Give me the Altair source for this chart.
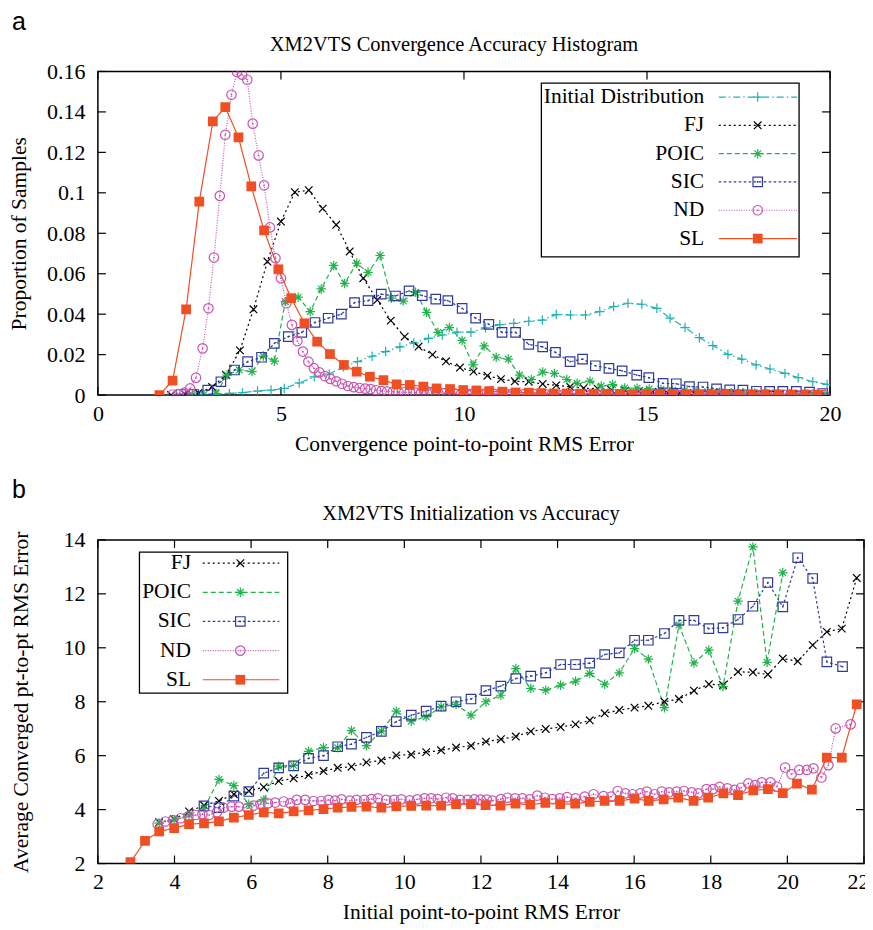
import altair as alt
import pandas as pd

SERIF = "Liberation Serif"
SANS = "Liberation Sans"

# ---------------- panel a : histogram ----------------
A_NAMES = ["Initial Distribution", "FJ", "POIC", "SIC", "ND", "SL"]

a_init_x = [2.82, 3.21, 3.59, 3.95, 4.36, 4.73, 5.09, 5.50, 5.91, 6.32, 6.71, 7.09, 7.49, 7.86, 8.25,
            8.63, 9.03, 9.41, 9.81, 10.19, 10.59, 10.98, 11.36, 11.77, 12.14, 12.52, 12.91, 13.32,
            13.71, 14.09, 14.48, 14.86, 15.27, 15.63, 16.04, 16.43, 16.80, 17.21, 17.59, 17.98,
            18.36, 18.77, 19.13, 19.53, 19.92]
a_init_y = [0.0, 0.0004, 0.0008, 0.0012, 0.0020, 0.0025, 0.0033, 0.0060, 0.0090, 0.0104, 0.0140,
            0.0165, 0.0192, 0.0215, 0.0238, 0.0258, 0.0280, 0.0297, 0.0311, 0.0311, 0.0332, 0.0348,
            0.0355, 0.0365, 0.0371, 0.0398, 0.0396, 0.0396, 0.0413, 0.0438, 0.0454, 0.0449, 0.0429,
            0.0380, 0.0334, 0.0284, 0.0245, 0.0201, 0.0178, 0.0149, 0.0129, 0.0107, 0.0086, 0.0066,
            0.0053]

a_fj_x = [2.00, 2.38, 2.75, 3.12, 3.50, 3.88, 4.25, 4.63, 5.00, 5.38, 5.76, 6.14, 6.51, 6.88, 7.25,
          7.63, 8.00, 8.38, 8.76, 9.14, 9.51, 9.89, 10.26, 10.64, 11.01, 11.39, 11.77, 12.15, 12.52,
          12.90, 13.27, 13.65, 14.02, 14.40, 14.78, 15.15, 15.53, 15.90, 16.28, 16.66, 17.03, 17.41,
          17.78, 18.16, 18.53, 18.91, 19.29, 19.66]
a_fj_y = [0.0, 0.0004, 0.0010, 0.0040, 0.0099, 0.0221, 0.0424, 0.0660, 0.0858, 0.1003, 0.1013,
          0.0922, 0.0842, 0.0710, 0.0578, 0.0470, 0.0368, 0.0289, 0.0240, 0.0200, 0.0167, 0.0136,
          0.0116, 0.0096, 0.0079, 0.0068, 0.0066, 0.0055, 0.0048, 0.0041, 0.0034, 0.0032, 0.0026,
          0.0022, 0.0019, 0.0016, 0.0014, 0.0012, 0.0011, 0.0010, 0.0009, 0.0008, 0.0007, 0.0006,
          0.0005, 0.0005, 0.0004, 0.0004]

a_poic_x = [2.58, 2.90, 3.23, 3.53, 3.86, 4.21, 4.52, 4.82, 5.12, 5.47, 5.80, 6.10, 6.44, 6.74, 7.07,
            7.38, 7.71, 8.02, 8.34, 8.68, 8.98, 9.29, 9.60, 9.95, 10.25, 10.55, 10.88, 11.21, 11.52,
            11.84, 12.15, 12.47, 12.81, 13.09, 13.44, 13.75, 14.06, 14.39, 14.73, 15.06, 15.38,
            15.70, 16.02, 16.34, 16.66, 16.98, 17.30, 17.62, 17.94, 18.26, 18.58, 18.90, 19.22,
            19.54, 19.86]
a_poic_y = [0.0, 0.0003, 0.0008, 0.0099, 0.0124, 0.0116, 0.0193, 0.0168, 0.0462, 0.0484, 0.0413,
            0.0525, 0.0641, 0.0552, 0.0652, 0.0607, 0.0690, 0.0479, 0.0465, 0.0508, 0.0409, 0.0310,
            0.0334, 0.0270, 0.0149, 0.0243, 0.0187, 0.0178, 0.0099, 0.0077, 0.0114, 0.0107, 0.0077,
            0.0058, 0.0069, 0.0045, 0.0052, 0.0035, 0.0034, 0.0030, 0.0028, 0.0024, 0.0022, 0.0019,
            0.0016, 0.0014, 0.0012, 0.0011, 0.0010, 0.0009, 0.0008, 0.0007, 0.0006, 0.0005, 0.0005]

a_sic_x = [2.27, 2.62, 3.00, 3.36, 3.73, 4.09, 4.47, 4.82, 5.20, 5.57, 5.93, 6.29, 6.65, 7.01, 7.38,
           7.74, 8.13, 8.50, 8.86, 9.23, 9.56, 9.95, 10.32, 10.68, 11.04, 11.41, 11.77, 12.15, 12.50,
           12.90, 13.24, 13.59, 13.96, 14.32, 14.72, 15.05, 15.44, 15.80, 16.16, 16.53, 16.90,
           17.26, 17.62, 17.99, 18.35, 18.71, 19.08, 19.44, 19.80]
a_sic_y = [0.0003, 0.0003, 0.0025, 0.0066, 0.0124, 0.0165, 0.0187, 0.0256, 0.0289, 0.0310, 0.0359,
           0.0380, 0.0400, 0.0457, 0.0467, 0.0499, 0.0490, 0.0515, 0.0492, 0.0474, 0.0467, 0.0429,
           0.0380, 0.0350, 0.0310, 0.0310, 0.0251, 0.0238, 0.0211, 0.0165, 0.0178, 0.0145, 0.0132,
           0.0120, 0.0099, 0.0086, 0.0058, 0.0056, 0.0042, 0.0040, 0.0031, 0.0026, 0.0025, 0.0019,
           0.0018, 0.0018, 0.0018, 0.0015, 0.0008]

a_nd_x = [2.04, 2.20, 2.36, 2.52, 2.68, 2.86, 3.02, 3.17, 3.33, 3.48, 3.65, 3.80, 3.94, 4.08, 4.23,
          4.39, 4.54, 4.70, 4.85, 5.00, 5.15, 5.30, 5.45, 5.60, 5.75, 5.90, 6.05, 6.20, 6.35, 6.51,
          6.67, 6.83, 6.99, 7.15, 7.30, 7.45, 7.60, 7.75,
          7.90, 8.06, 8.21, 8.37, 8.52, 8.68, 8.83, 8.99, 9.14, 9.30,
          9.45, 9.61, 9.76, 9.92, 10.07, 10.23, 10.38, 10.54, 10.69, 10.85,
          11.00, 11.16, 11.31, 11.47, 11.62, 11.78, 11.93, 12.09, 12.24, 12.40,
          12.55, 12.71, 12.86, 13.02, 13.17, 13.33, 13.48, 13.64, 13.79, 13.95,
          14.10, 14.26, 14.41, 14.57, 14.72, 14.88, 15.03, 15.19, 15.34, 15.50,
          15.65, 15.81, 15.96, 16.12, 16.27, 16.43, 16.58, 16.74, 16.89, 17.05,
          17.20, 17.36, 17.51, 17.67, 17.82, 17.98, 18.13, 18.29, 18.44, 18.60,
          18.75, 18.91, 19.06, 19.22, 19.37, 19.53, 19.68, 19.84]
a_nd_y = [0.0003, 0.0005, 0.0012, 0.0033, 0.0086, 0.0231, 0.0429, 0.0680, 0.0985, 0.1287, 0.1485,
          0.1598, 0.1584, 0.1559, 0.1342, 0.1185, 0.1037, 0.0829, 0.0677, 0.0578, 0.0454, 0.0347,
          0.0267, 0.0215, 0.0165, 0.0133, 0.0112, 0.0094, 0.0080, 0.0068, 0.0056, 0.0045, 0.0039,
          0.0035, 0.0032, 0.0030, 0.0024, 0.0020,
          0.0018, 0.0017, 0.0015, 0.0014, 0.0013, 0.0012, 0.0011, 0.0010, 0.0010, 0.0009,
          0.0009, 0.0008, 0.0008, 0.0007, 0.0007, 0.0007, 0.0006, 0.0006, 0.0006, 0.0005,
          0.0005, 0.0005, 0.0005, 0.0004, 0.0004, 0.0004, 0.0004, 0.0004, 0.0004, 0.0003,
          0.0003, 0.0003, 0.0003, 0.0003, 0.0003, 0.0003, 0.0003, 0.0003, 0.0003, 0.0003,
          0.0003, 0.0003, 0.0003, 0.0003, 0.0003, 0.0002, 0.0002, 0.0002, 0.0002, 0.0002,
          0.0002, 0.0002, 0.0002, 0.0002, 0.0002, 0.0002, 0.0002, 0.0002, 0.0002, 0.0002,
          0.0002, 0.0002, 0.0002, 0.0002, 0.0002, 0.0001, 0.0001, 0.0001, 0.0001, 0.0001,
          0.0001, 0.0001, 0.0001, 0.0001, 0.0001, 0.0001, 0.0001, 0.0001]

a_sl_x = [1.68, 2.04, 2.41, 2.77, 3.14, 3.48, 3.84, 4.19, 4.54, 4.93, 5.28, 5.64, 5.99, 6.34, 6.72,
          7.07, 7.43, 7.80, 8.16, 8.52, 8.89, 9.25, 9.62, 9.98, 10.34, 10.69, 11.05, 11.41, 11.77,
          12.11, 12.45, 12.81, 13.17, 13.54, 13.90, 14.26, 14.62, 14.98, 15.34, 15.71, 16.07,
          16.43, 16.79, 17.15, 17.52, 17.88, 18.24, 18.60, 18.96, 19.33, 19.69]
a_sl_y = [0.0, 0.0071, 0.0424, 0.0957, 0.1353, 0.1424, 0.1274, 0.1032, 0.0814, 0.0622, 0.0479,
          0.0355, 0.0264, 0.0203, 0.0149, 0.0116, 0.0091, 0.0074, 0.0053, 0.0050, 0.0042, 0.0033,
          0.0030, 0.0025, 0.0023, 0.0020, 0.0017, 0.0013, 0.0012, 0.0010, 0.0008, 0.0008, 0.0007,
          0.0007, 0.0006, 0.0006, 0.0005, 0.0005, 0.0005, 0.0004, 0.0004, 0.0004, 0.0004, 0.0003,
          0.0003, 0.0003, 0.0003, 0.0003, 0.0002, 0.0002, 0.0002]

A_XTICKS = [0, 5, 10, 15, 20]
A_YTICKS = [0, 0.02, 0.04, 0.06, 0.08, 0.10, 0.12, 0.14, 0.16]

# ---------------- panel b : initialization vs accuracy ----------------
B_NAMES = ["FJ", "POIC", "SIC", "ND", "SL"]

b_fj_x = [3.60, 3.99, 4.38, 4.77, 5.16, 5.55, 5.94, 6.33, 6.72, 7.11,
          7.50, 7.89, 8.26, 8.62, 9.01, 9.40, 9.79, 10.18, 10.57, 10.96,
          11.35, 11.74, 12.13, 12.52, 12.91, 13.30, 13.69, 14.08, 14.47, 14.84,
          15.23, 15.61, 16.01, 16.37, 16.79, 17.17, 17.56, 17.95, 18.32, 18.71,
          19.10, 19.49, 19.88, 20.27, 20.66, 21.03, 21.42, 21.81]
b_fj_y = [3.53, 3.65, 3.93, 4.16, 4.32, 4.57, 4.69, 4.83, 5.06, 5.16,
          5.28, 5.43, 5.55, 5.59, 5.75, 5.82, 6.01, 6.04, 6.13, 6.20,
          6.30, 6.37, 6.52, 6.61, 6.71, 6.90, 6.99, 7.06, 7.16, 7.31,
          7.57, 7.69, 7.78, 7.85, 8.00, 8.10, 8.41, 8.65, 8.62, 9.11,
          9.09, 9.01, 9.60, 9.50, 10.10, 10.59, 10.71, 12.59]

b_poic_x = [3.60, 3.99, 4.38, 4.77, 5.16, 5.55, 5.94, 6.33, 6.72, 7.11,
            7.50, 7.89, 8.26, 8.62, 9.01, 9.40, 9.79, 10.18, 10.57, 10.96,
            11.35, 11.74, 12.13, 12.52, 12.91, 13.30, 13.69, 14.08, 14.47, 14.84,
            15.23, 15.61, 16.01, 16.37, 16.79, 17.17, 17.56, 17.95, 18.32, 18.71,
            19.10, 19.47, 19.88]
b_poic_y = [3.50, 3.62, 3.80, 4.05, 5.12, 4.89, 4.20, 4.36, 5.61, 5.64,
            6.16, 6.30, 6.29, 6.93, 6.37, 6.91, 7.65, 7.28, 7.44, 7.81,
            7.90, 7.50, 8.00, 8.24, 9.23, 8.49, 8.43, 8.61, 8.76, 9.05,
            8.65, 9.07, 9.97, 9.58, 7.78, 10.84, 9.44, 9.91, 8.56, 11.73,
            13.74, 9.46, 12.78]

b_sic_x = [4.77, 5.16, 5.55, 5.94, 6.33, 6.72, 7.11, 7.50, 7.89, 8.26,
           8.62, 9.01, 9.40, 9.79, 10.18, 10.57, 10.96, 11.35, 11.74, 12.13,
           12.52, 12.91, 13.30, 13.69, 14.08, 14.47, 14.84, 15.23, 15.61, 16.01,
           16.37, 16.79, 17.17, 17.56, 17.95, 18.32, 18.71, 19.10, 19.49, 19.88,
           20.27, 20.66, 21.03, 21.44]
b_sic_y = [4.14, 4.07, 4.50, 4.67, 5.35, 5.55, 5.62, 5.90, 6.00, 6.33,
           6.43, 6.68, 6.90, 7.26, 7.50, 7.65, 7.84, 8.00, 8.10, 8.41,
           8.58, 8.86, 8.95, 9.07, 9.38, 9.38, 9.43, 9.75, 9.81, 10.28,
           10.28, 10.53, 11.02, 11.02, 10.71, 10.74, 11.05, 11.54, 12.42, 11.52,
           13.34, 12.57, 9.48, 9.30]

b_nd_x = [3.56, 3.76, 3.96, 4.16, 4.36, 4.55, 4.73, 4.90, 5.11, 5.28,
          5.49, 5.68, 5.90, 6.07, 6.24, 6.44, 6.63, 6.85, 7.02, 7.19,
          7.41, 7.63, 7.83, 8.02, 8.19, 8.36, 8.58, 8.75, 8.95, 9.14,
          9.31, 9.53, 9.73, 9.92, 10.14, 10.34, 10.53, 10.70, 10.87, 11.09,
          11.26, 11.46, 11.65, 11.83, 11.99, 12.15, 12.30, 12.52, 12.69, 12.89,
          13.08, 13.27, 13.47, 13.67, 13.86, 14.06, 14.25, 14.47, 14.71, 14.94,
          15.20, 15.40, 15.57, 15.77, 15.96, 16.16, 16.33, 16.53, 16.72, 16.91,
          17.11, 17.30, 17.50, 17.67, 17.89, 18.06, 18.23, 18.43, 18.62, 18.79,
          18.98, 19.16, 19.33, 19.56, 19.73, 19.94, 20.11, 20.31, 20.51, 20.68,
          20.89, 21.07, 21.26, 21.65]
b_nd_y = [3.46, 3.56, 3.61, 3.68, 3.74, 3.80, 3.83, 3.80, 3.90, 4.07,
          4.11, 4.11, 4.05, 4.15, 4.20, 4.23, 4.26, 4.30, 4.23, 4.36,
          4.36, 4.32, 4.32, 4.36, 4.33, 4.38, 4.33, 4.36, 4.36, 4.39,
          4.42, 4.36, 4.36, 4.38, 4.34, 4.38, 4.42, 4.42, 4.39, 4.44,
          4.42, 4.36, 4.36, 4.38, 4.37, 4.37, 4.33, 4.39, 4.44, 4.42,
          4.42, 4.38, 4.52, 4.44, 4.39, 4.42, 4.46, 4.42, 4.48, 4.57,
          4.50, 4.48, 4.69, 4.60, 4.57, 4.60, 4.67, 4.57, 4.67, 4.64,
          4.67, 4.69, 4.64, 4.60, 4.76, 4.76, 4.84, 4.79, 4.73, 4.81,
          4.97, 4.91, 5.01, 5.01, 4.85, 5.56, 5.31, 5.47, 5.47, 5.53,
          5.19, 5.65, 7.01, 7.16]

b_sl_x = [2.85, 3.23, 3.60, 3.99, 4.38, 4.77, 5.16, 5.55, 5.94, 6.33,
          6.72, 7.11, 7.50, 7.89, 8.26, 8.62, 9.01, 9.40, 9.79, 10.18,
          10.57, 10.96, 11.35, 11.74, 12.12, 12.51, 12.90, 13.29, 13.68, 14.07,
          14.46, 14.84, 15.23, 15.62, 16.01, 16.38, 16.77, 17.15, 17.55, 17.93,
          18.33, 18.71, 19.11, 19.49, 19.88, 20.25, 20.64, 21.03, 21.42, 21.81]
b_sl_y = [2.05, 2.84, 3.19, 3.31, 3.46, 3.49, 3.56, 3.70, 3.80, 3.90,
          3.86, 3.93, 3.97, 4.02, 4.07, 4.10, 4.11, 4.07, 4.12, 4.14,
          4.15, 4.15, 4.20, 4.20, 4.17, 4.15, 4.22, 4.18, 4.25, 4.20,
          4.22, 4.29, 4.32, 4.32, 4.41, 4.32, 4.38, 4.44, 4.32, 4.44,
          4.60, 4.54, 4.71, 4.76, 4.61, 4.96, 4.74, 5.93, 5.93, 7.90]

B_XTICKS = [2, 4, 6, 8, 10, 12, 14, 16, 18, 20, 22]
B_YTICKS = [2, 4, 6, 8, 10, 12, 14]

# ---------------- styles ----------------
COLORS = {"Initial Distribution": "#22B1B1", "FJ": "#000000", "POIC": "#22B24C",
          "SIC": "#2F3A9C", "ND": "#C855B0", "SL": "#F04E23"}
DASHES = {"Initial Distribution": [7, 3, 1.5, 3], "FJ": [2, 3], "POIC": [5, 3],
          "SIC": [2.5, 2.5], "ND": [1, 1.5], "SL": [1, 0]}
PLUS = "M-1,0L1,0M0,-1L0,1"
XCROSS = "M-0.8,-0.8L0.8,0.8M-0.8,0.8L0.8,-0.8"
STAR = "M-1,0L1,0M0,-1L0,1M-0.7,-0.7L0.7,0.7M-0.7,0.7L0.7,-0.7"
SHAPES = {"Initial Distribution": PLUS, "FJ": XCROSS, "POIC": STAR,
          "SIC": "square", "ND": "circle", "SL": "square"}

TICK_FS = 22
TEXT_FS = 21.5
TITLE_FS = 20.5


def long_df(series):
    rows = []
    for name, (xs, ys) in series.items():
        assert len(xs) == len(ys), name
        rows += [{"series": name, "x": a, "y": b} for a, b in zip(xs, ys)]
    return pd.DataFrame(rows)


def panel(df, names, width, height, xdom, ydom, xticks, yticks, xtitle, ytitle, title,
          letter, leg, ytitle_x, fmt, last_label_shift=0):
    cs = alt.Scale(domain=names, range=[COLORS[n] for n in names])
    ds = alt.Scale(domain=names, range=[DASHES[n] for n in names])
    ss = alt.Scale(domain=names, range=[SHAPES[n] for n in names])
    color = alt.Color("series:N", scale=cs, legend=None)
    dash = alt.StrokeDash("series:N", scale=ds, legend=None)
    shape = alt.Shape("series:N", scale=ss, legend=None)
    xs = alt.Scale(domain=xdom, nice=False, zero=False)
    ys = alt.Scale(domain=ydom, nice=False, zero=False)
    common = dict(ticks=False, domain=False, grid=False, labelFont=SERIF, labelFontSize=TICK_FS,
                  labelColor="black", titleFont=SERIF, titleFontSize=TEXT_FS,
                  titleFontWeight="normal", titleColor="black")
    xaxis_kw = dict(values=xticks, title=xtitle, labelPadding=8, titlePadding=9,
                    labelFlush=False, **common)
    if last_label_shift:
        xaxis_kw["labelOffset"] = {"condition": {"test": "datum.value == %s" % xticks[-1],
                                                 "value": last_label_shift}, "value": 0}
    xaxis = alt.Axis(**xaxis_kw)
    yaxis = alt.Axis(values=yticks, format=fmt, title=ytitle, labelPadding=13,
                     titleX=ytitle_x, titleY=height / 2, **common)
    X = alt.X("x:Q", scale=xs, axis=xaxis)
    Yax = alt.Y("y:Q", scale=ys, axis=yaxis)
    Yno = alt.Y("y:Q", scale=ys, axis=None)

    base = alt.Chart(df)
    lines = base.mark_line(strokeWidth=1.2, clip=True).encode(
        x=X, y=Yax, color=color, strokeDash=dash)
    hollow = base.transform_filter(alt.datum.series != "SL").mark_point(
        filled=False, size=90, strokeWidth=1.2, opacity=1, clip=True).encode(
        x=X, y=Yno, color=color, shape=shape)
    solid = base.transform_filter(alt.datum.series == "SL").mark_point(
        filled=True, size=95, opacity=1, clip=True).encode(
        x=X, y=Yno, color=color, shape=shape)
    dots = base.transform_filter("datum.series == 'SIC' || datum.series == 'ND'").mark_circle(
        size=3, opacity=1, clip=True).encode(x=X, y=Yno, color=color)

    xt = alt.Chart(pd.DataFrame({"x": xticks}))
    yt = alt.Chart(pd.DataFrame({"y": yticks}))
    tk = dict(color="black", strokeWidth=1.2)
    tick_b = xt.mark_rule(**tk).encode(x=X, y=alt.value(height), y2=alt.value(height - 8))
    tick_t = xt.mark_rule(**tk).encode(x=X, y=alt.value(0), y2=alt.value(8))
    tick_l = yt.mark_rule(**tk).encode(y=Yno, x=alt.value(0), x2=alt.value(8))
    tick_r = yt.mark_rule(**tk).encode(y=Yno, x=alt.value(width), x2=alt.value(width - 8))

    ld = alt.Chart(pd.DataFrame({"series": names}))
    LY = alt.Y("series:N", axis=None,
               scale=alt.Scale(type="point", domain=names, range=[leg["y0"], leg["y1"]],
                               padding=0))
    box = alt.Chart(pd.DataFrame({"a": [0]})).mark_rect(
        fill="white", stroke="black", strokeWidth=1.3).encode(
        x=alt.value(leg["bx0"]), x2=alt.value(leg["bx1"]),
        y=alt.value(leg["by0"]), y2=alt.value(leg["by1"]))
    ltext = ld.mark_text(align="right", baseline="middle", font=SERIF, fontSize=TEXT_FS,
                         color="black").encode(x=alt.value(leg["tx"]), y=LY, text="series:N")
    lrule = ld.mark_rule(strokeWidth=1.2).encode(
        x=alt.value(leg["lx0"]), x2=alt.value(leg["lx1"]), y=LY, color=color, strokeDash=dash)
    lhol = ld.transform_filter(alt.datum.series != "SL").mark_point(
        filled=False, size=90, strokeWidth=1.2, opacity=1).encode(
        x=alt.value(leg["mx"]), y=LY, color=color, shape=shape)
    lsol = ld.transform_filter(alt.datum.series == "SL").mark_point(
        filled=True, size=95, opacity=1).encode(
        x=alt.value(leg["mx"]), y=LY, color=color, shape=shape)
    ldot = ld.transform_filter("datum.series == 'SIC' || datum.series == 'ND'").mark_circle(
        size=3, opacity=1).encode(x=alt.value(leg["mx"]), y=LY, color=color)

    ann = alt.Chart(pd.DataFrame({"t": [letter], "h": [title]}))
    let = ann.mark_text(font=SANS, fontSize=25, align="left", baseline="top",
                        color="black").encode(x=alt.value(-86), y=alt.value(-62), text="t:N")
    ttl = ann.mark_text(font=SERIF, fontSize=TITLE_FS, align="center", baseline="alphabetic",
                        color="black").encode(x=alt.value(width / 2 - 10), y=alt.value(-20),
                                              text="h:N")

    return alt.layer(
        tick_b, tick_t, tick_l, tick_r, lines, hollow, solid, dots,
        box, lrule, lhol, lsol, ldot, ltext, let, ttl
    ).resolve_scale(y="independent").properties(width=width, height=height)


df_a = long_df({
    "Initial Distribution": (a_init_x, a_init_y),
    "FJ": (a_fj_x, a_fj_y),
    "POIC": (a_poic_x, a_poic_y),
    "SIC": (a_sic_x, a_sic_y),
    "ND": (a_nd_x, a_nd_y),
    "SL": (a_sl_x, a_sl_y),
})
df_b = long_df({
    "FJ": (b_fj_x, b_fj_y),
    "POIC": (b_poic_x, b_poic_y),
    "SIC": (b_sic_x, b_sic_y),
    "ND": (b_nd_x, b_nd_y),
    "SL": (b_sl_x, b_sl_y),
})

top = panel(df_a, A_NAMES, 733, 324, [0, 20], [0, 0.16], A_XTICKS, A_YTICKS,
            "Convergence point-to-point RMS Error", "Proportion of Samples",
            "XM2VTS Convergence Accuracy Histogram", "a",
            dict(bx0=444, bx1=702, by0=11.6, by1=185.6, y0=25.6, y1=167.3,
                 tx=607, lx0=621.6, lx1=700, mx=660.6),
            -67, "~g")
bottom = panel(df_b, B_NAMES, 767, 324, [2, 22], [2, 14], B_XTICKS, B_YTICKS,
               "Initial point-to-point RMS Error", "Average Converged pt-to-pt RMS Error",
               "XM2VTS Initialization vs Accuracy", "b",
               dict(bx0=41.6, bx1=190, by0=12.3, by1=153.3, y0=23.3, y1=140,
                    tx=93.3, lx0=105, lx1=181.6, mx=142.6),
               -65, "d", last_label_shift=-6)

chart = alt.vconcat(top, bottom, spacing=145, bounds="flush").properties(
    padding={"left": 0, "top": 0, "right": -5, "bottom": 0}, background="white"
).configure_view(stroke="black", strokeWidth=1.5)

chart.save("out.html", embed_options={"renderer": "svg", "actions": False})
